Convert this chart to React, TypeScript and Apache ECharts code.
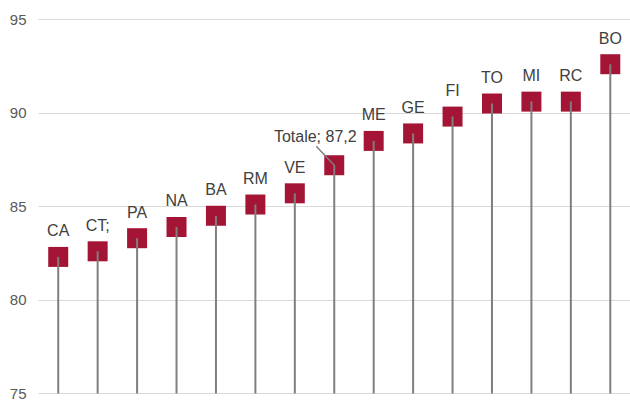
import React, { useEffect, useRef } from "react";
import * as echarts from "echarts";

const categories = ["CA", "CT;", "PA", "NA", "BA", "RM", "VE", "Totale", "ME", "GE", "FI", "TO", "MI", "RC", "BO"];
const values = [82.3, 82.6, 83.3, 83.9, 84.5, 85.1, 85.7, 87.2, 88.5, 88.9, 89.8, 90.5, 90.6, 90.6, 92.6];
const labelTexts = ["CA", "CT;", "PA", "NA", "BA", "RM", "VE", "Totale; 87,2", "ME", "GE", "FI", "TO", "MI", "RC", "BO"];
const yTicks = { min: 75, max: 95, interval: 5 };
const totalIndex = 7;

export default function App() {
  const ref = useRef<HTMLDivElement>(null);
  useEffect(() => {
    if (!ref.current) return;
    const chart = echarts.init(ref.current, null, { renderer: "svg" });
    const scatterData = values.map((v, i) => {
      if (i === totalIndex) {
        return {
          value: v,
          label: { offset: [-19, -3] },
        };
      }
      return { value: v };
    });
    chart.setOption({
      animation: false,
      grid: { left: 38.5, right: -3, top: 19.3, bottom: 0, containLabel: false },
      xAxis: {
        type: "category",
        data: categories,
        axisLine: { show: false },
        axisTick: { show: false },
        axisLabel: { show: false },
        splitLine: { show: false },
      },
      yAxis: {
        type: "value",
        min: yTicks.min,
        max: yTicks.max,
        interval: yTicks.interval,
        axisLine: { show: false },
        axisTick: { show: false },
        axisLabel: {
          color: "#595959",
          fontSize: 15,
          fontFamily: "'Liberation Sans Narrow', 'Arial Narrow', 'Liberation Sans', Arial, sans-serif",
          margin: 12,
        },
        splitLine: { lineStyle: { color: "#d9d9d9", width: 1 } },
      },
      series: [
        {
          type: "scatter",
          data: scatterData,
          symbol: "rect",
          symbolSize: 20,
          itemStyle: { color: "#A41535", opacity: 1 },
          z: 2,
          label: {
            show: true,
            position: "top",
            distance: 8,
            color: "#404040",
            fontSize: 16,
            fontFamily: "'Liberation Sans', Arial, sans-serif",
            formatter: (p: any) => labelTexts[p.dataIndex],
          },
        },
        {
          type: "bar",
          data: values,
          barWidth: 2,
          itemStyle: { color: "#7f7f7f" },
          z: 3,
          silent: true,
        },
        {
          type: "custom",
          data: [[totalIndex, values[totalIndex]]],
          z: 4,
          silent: true,
          renderItem: (params: any, api: any) => {
            const c = api.coord([api.value(0), api.value(1)]);
            return {
              type: "line",
              shape: { x1: c[0] - 18, y1: c[1] - 19, x2: c[0], y2: c[1] },
              style: { stroke: "#7f7f7f", lineWidth: 1.5 },
            };
          },
        },
      ],
    });
    return () => chart.dispose();
  }, []);
  return (
    <div
      ref={ref}
      style={{ position: "absolute", left: 0, top: 0, width: 630, height: 401 }}
    />
  );
}
